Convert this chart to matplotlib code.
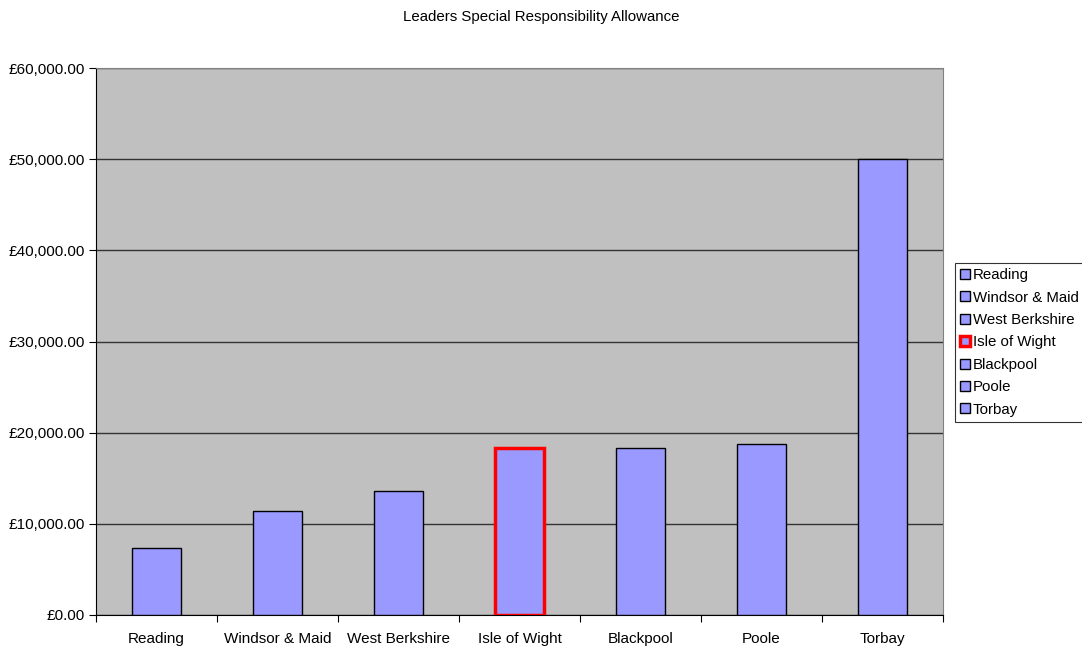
import matplotlib.pyplot as plt
from matplotlib.ticker import FuncFormatter, MultipleLocator

plt.rcParams['font.family'] = ['Liberation Sans', 'DejaVu Sans']

councils = ['Reading', 'Windsor & Maid', 'West Berkshire', 'Isle of Wight',
            'Blackpool', 'Poole', 'Torbay']
allowance = [7400, 11400, 13600, 18350, 18350, 18800, 50000]
highlight = 'Isle of Wight'

fig = plt.figure(figsize=(10.82, 6.46), dpi=100)
ax = fig.add_axes([96 / 1082, 31 / 646, 847 / 1082, 547 / 646])
ax.set_facecolor('#C0C0C0')

for i, (name, val) in enumerate(zip(councils, allowance)):
    if name == highlight:
        ax.bar(i, val, width=0.4, color='#9999FF', edgecolor='#FF0000',
               linewidth=2.5, label=name, zorder=3)
    else:
        ax.bar(i, val, width=0.4, color='#9999FF', edgecolor='black',
               linewidth=1, label=name, zorder=3)

ax.set_xlim(-0.5, len(councils) - 0.5)
ax.set_ylim(0, 60000)
ax.yaxis.set_major_locator(MultipleLocator(10000))
ax.yaxis.set_major_formatter(FuncFormatter(lambda v, p: '£{:,.2f}'.format(v)))
ax.grid(axis='y', color='#333333', linewidth=1, zorder=1)

ax.set_xticks([i - 0.5 for i in range(len(councils) + 1)])
ax.set_xticklabels([])
ax.set_xticks(range(len(councils)), minor=True)
ax.set_xticklabels(councils, minor=True)
ax.tick_params(axis='x', which='minor', length=0, pad=12, labelsize=11)
ax.tick_params(axis='x', which='major', length=5, direction='out')
ax.tick_params(axis='y', length=5, direction='out', labelsize=11, pad=3)

for s in ['top', 'right']:
    ax.spines[s].set_color('#808080')
for s in ['left', 'bottom']:
    ax.spines[s].set_color('black')

fig.suptitle('Leaders Special Responsibility Allowance', y=1 - 17 / 646,
             va='center', fontsize=10.8)

leg = fig.legend(loc='upper left', bbox_to_anchor=(955 / 1082, 1 - 263 / 646),
                 borderaxespad=0, fontsize=10.8, frameon=True, fancybox=False,
                 edgecolor='black', handlelength=0.65, handleheight=0.65,
                 handletextpad=0.2, labelspacing=0.56, borderpad=0.35)
leg.get_frame().set_linewidth(0.8)

fig.savefig('out.png', dpi=100)
